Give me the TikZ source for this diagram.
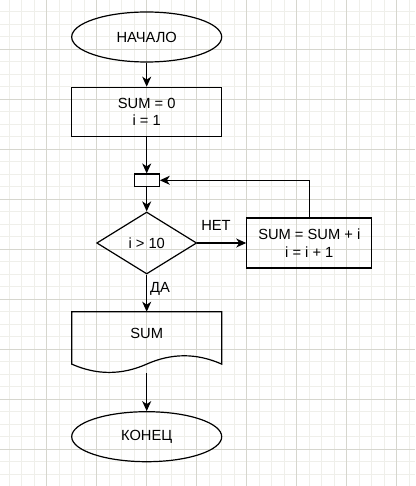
\documentclass[tikz,border=0pt]{standalone}
\usepackage{fontspec}
\setmainfont{Liberation Sans}
\usepackage{tikz}
\usetikzlibrary{calc}
\usetikzlibrary{arrows.meta}
\usetikzlibrary{shapes.geometric}
\tikzset{>={Stealth[length=10pt,width=9pt,inset=3pt]}}
\usepackage{xcolor}
\definecolor{gridmajor}{RGB}{214,214,206}
\definecolor{gridminor}{RGB}{239,239,234}
\tikzstyle{term}=[draw,ellipse,line width=1.2pt,minimum width=150,minimum height=50,inner sep=0]
\tikzstyle{proc}=[draw,rectangle,line width=1.2pt,align=center,inner sep=0]
\tikzstyle{cond}=[draw,diamond,line width=1.2pt,minimum width=100,minimum height=62,inner sep=0]
\tikzstyle{junc}=[draw,rectangle,line width=1.2pt,minimum width=25,minimum height=12.5,inner sep=0]
\tikzstyle{flow}=[->,line width=1.2pt]

\begin{document}
\begin{tikzpicture}[x=1pt,y=-1pt,font=\fontsize{14.7}{17.5}\selectfont]
\useasboundingbox (0,0) rectangle (415,486);
\fill[white] (0,0) rectangle (415,486);

% grid
\foreach \x in {9.2,21.7,...,415} \draw[gridminor,line width=1] (\x,0)--(\x,486);
\foreach \y in {11.8,24.3,...,486} \draw[gridminor,line width=1] (0,\y)--(415,\y);
\foreach \x in {46.7,96.7,...,415} \draw[gridmajor,line width=1] (\x,0)--(\x,486);
\foreach \y in {49.3,99.3,...,486} \draw[gridmajor,line width=1] (0,\y)--(415,\y);

\node[term] (start) at (146.7,37) {НАЧАЛО};
\node[proc,minimum width=150,minimum height=49.5] (init) at (146.7,112) {SUM = 0\\i = 1};
\node[junc] (loop) at (146.7,180.3) {};
\node[cond] (check) at (146.7,243) {i > 10};
\node[proc,minimum width=125,minimum height=50] (incr) at (309.3,243) {SUM = SUM + i\\i = i + 1};

\node (no) at (216,225) {НЕТ};
\node (yes) at (160,288.8) {ДА};

% document
\node (out) at (146.7,333.3) {SUM};
\draw[line width=1.2pt] (71.7,311.7) -- (221.7,311.7) -- (221.7,364.1)
  .. controls (196.7,353) and (171.7,353) .. (146.7,364.1)
  .. controls (121.7,375.2) and (96.7,375.2) .. (71.7,364.1) -- cycle;
\coordinate (outtop) at (146.7,311.7);
\coordinate (outbot) at (146.7,373.3);

\node[term] (stop) at (146.7,436.7) {КОНЕЦ};

\draw[flow] (start) -- (init);
\draw[flow] (init) -- (loop);
\draw[flow] (loop) -- (check);
\draw[flow] (check) -- (incr);
\draw[flow] (incr.north) |- (loop.east);
\draw[flow] (check) -- (outtop);
\draw[flow] (outbot) -- (stop);
\end{tikzpicture}
\end{document}
